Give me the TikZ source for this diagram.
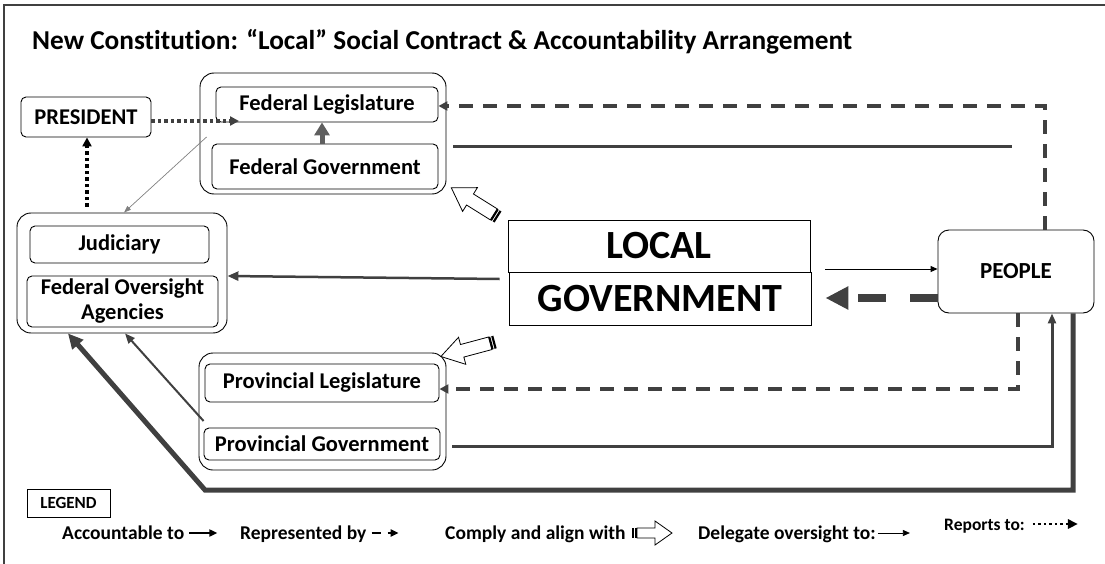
\documentclass[tikz,border=0pt]{standalone}
\usepackage{fontspec}
\setmainfont{Carlito}[Ligatures=NoCommon]
\usetikzlibrary{arrows.meta,calc}
\definecolor{ln}{HTML}{404040}
\definecolor{lg}{HTML}{5F5F5F}
\newcommand\hollowarr[7]{%
 \begin{scope}[shift={(#1,#2)},rotate=#3]
  \draw[line width=0.8pt,fill=white,line join=miter] (5,-#5) -- ({#4-#7},-#5) -- ({#4-#7},-#6) -- (#4,0) -- ({#4-#7},#6) -- ({#4-#7},#5) -- (5,#5) -- cycle;
  \fill[black] (0,-#5) rectangle (2.2,#5);
  \fill[black] (3.2,-#5) rectangle (5,#5);
 \end{scope}}
\begin{document}
\begin{tikzpicture}[x=1pt,y=-1pt,
  box/.style={draw=black,line width=0.9pt,rounded corners=5pt,inner sep=0pt,align=center,font=\fontsize{22.5}{25}\selectfont\bfseries},
  grp/.style={draw=black,line width=0.9pt,rounded corners=14pt,inner sep=0pt},
  sq/.style={draw=black,line width=0.9pt,inner sep=0pt,font=\fontsize{40}{46}\selectfont\bfseries},
  legtxt/.style={inner sep=0pt,anchor=base west,font=\fontsize{19.5}{22}\selectfont\bfseries},
  ]
\clip (0,0) rectangle (1105,564);
\draw[ln,line width=2.5pt] (4,5) rectangle (1130,590);
\node[anchor=base west,inner sep=0pt,font=\fontsize{27.3}{31}\selectfont\bfseries] (title) at (32,50) {New Constitution: “Local” Social Contract \& Accountability Arrangement};
% boxes
\node[box,minimum width=130pt,minimum height=40pt] (pres) at (86,117) {PRESIDENT};
\node[grp,minimum width=246pt,minimum height=121pt] (fedgrp) at (323,133.5) {};
\node[box,minimum width=222pt,minimum height=35pt] (fedleg) at (327,104.5) {Federal Legislature};
\node[box,minimum width=226pt,minimum height=45pt] (fedgov) at (325,166.5) {Federal Government};
\node[grp,minimum width=210pt,minimum height=120pt] (judgrp) at (122,273) {};
\node[box,minimum width=179pt,minimum height=37pt] (jud) at (119.5,244.5) {Judiciary};
\node[box,minimum width=191pt,minimum height=51pt] (foa) at (122.5,301.5) {Federal Oversight\\Agencies};
\node[sq,minimum width=302pt,minimum height=52pt] (local) at (659,246) {LOCAL};
\node[sq,minimum width=302pt,minimum height=53pt] (govt) at (660,298.5) {GOVERNMENT};
\node[box,rounded corners=11pt,minimum width=156pt,minimum height=83pt,font=\fontsize{23}{26}\selectfont\bfseries] (people) at (1016,271.5) {PEOPLE};
\node[grp,minimum width=247pt,minimum height=117pt] (provgrp) at (322.5,411.5) {};
\node[box,minimum width=234pt,minimum height=38pt] (provleg) at (322,383) {Provincial Legislature};
\node[box,minimum width=236pt,minimum height=32pt] (provgov) at (322,444) {Provincial Government};
% connectors
\draw[ln,line width=5pt,-{Triangle[length=15pt,width=14pt]}] (people.south -| 1073,0) -- (1073,490) -- (205,490) -- (judgrp.south -| 68,0);
\draw[ln,line width=2pt,-{Triangle[length=10pt,width=8pt]}] ($(provgrp.west |- 0,421)+(5,0)$) -- (judgrp.south -| 125,0);
\draw[ln,line width=2.5pt,-{Triangle[length=11pt,width=9pt]}] ($(govt.west |- 0,279)+(-9,0)$) -- (judgrp.east |- 0,276);
\draw[black,line width=0.9pt,-{Triangle[length=7pt,width=6pt]}] ($(local.east |- 0,269)+(15,0)$) -- (people.west |- 0,269);
\draw[ln,line width=8pt,dash pattern=on 28pt off 24pt,-{Triangle[length=23pt,width=22pt]}] (people.west |- 0,298) -- ($(govt.east |- 0,298)+(14,0)$);
\draw[ln,line width=3.5pt,dash pattern=on 14pt off 10pt,-{Triangle[length=9pt,width=9pt]}] (people.north -| 1045,0) |- (fedleg.east |- 0,106);
\draw[ln,line width=3.5pt,dash pattern=on 14pt off 10pt,-{Triangle[length=9pt,width=9pt]}] (people.south -| 1018,0) |- (provleg.east |- 0,389);
\coordinate (fgend) at (1012,147);
\draw[ln,line width=3pt] ($(fedgrp.east |- 0,147)+(7,0)$) -- (fgend);
\draw[ln,line width=3pt,-{Triangle[length=10pt,width=8pt]}] ($(provgrp.east |- 0,446)+(6,0)$) -| (people.south -| 1052,0);
\draw[lg,line width=5pt,-{Triangle[length=13pt,width=15pt]}] (fedgov.north -| 322,0) -- (fedleg.south -| 322,0);
\coordinate (flt) at (239,121);
\draw[ln,line width=3.5pt,dash pattern=on 3.5pt off 3pt,-{Triangle[length=9pt,width=9pt]}] (pres.east |- 0,121) -- (flt);
\draw[black,line width=3.5pt,dash pattern=on 3.5pt off 3pt,-{Triangle[length=9pt,width=9pt]}] ($(judgrp.north -| 87,0)+(0,-6)$) -- (pres.south -| 87,0);
\draw[gray,line width=0.7pt,-{Triangle[length=7pt,width=5pt]}] ($(fedgrp.west |- 0,137)+(7,0)$) -- (judgrp.north -| 124,0);
\hollowarr{498}{217}{148}{55}{6.5}{14}{22}
\hollowarr{495}{342}{195}{56}{6.5}{14}{22}
% legend
\node[draw,line width=0.8pt,inner sep=0pt,minimum width=83pt,minimum height=28pt,font=\fontsize{17}{19}\selectfont\bfseries] (legend) at (68.5,503) {LEGEND};
\node[legtxt] (l1) at (62,539) {Accountable to};
\draw[black,line width=1.8pt,-{Triangle[length=8pt,width=7pt]}] ($(l1.base east)+(5,-6)$) -- ++(28,0);
\node[legtxt] (l2) at (240,539) {Represented by};
\draw[black,line width=2.2pt,dash pattern=on 9pt off 7pt,-{Triangle[length=8pt,width=7pt]}] ($(l2.base east)+(5,-6)$) -- ++(27,0);
\node[legtxt] (l3) at (445,539) {Comply and align with};
\hollowarr{632}{533}{0}{40}{5}{12}{17}
\node[legtxt] (l4) at (698,539) {Delegate oversight to:};
\draw[black,line width=0.8pt,-{Triangle[length=7pt,width=6pt]}] ($(l4.base east)+(2,-6)$) -- ++(32,0);
\node[legtxt,font=\fontsize{17.5}{20}\selectfont\bfseries] (l5) at (944,530) {Reports to:};
\draw[black,line width=2.5pt,dash pattern=on 2.5pt off 3pt,-{Triangle[length=10pt,width=9pt]}] ($(l5.base east)+(8,-6)$) -- ++(45,0);
\end{tikzpicture}
\end{document}
